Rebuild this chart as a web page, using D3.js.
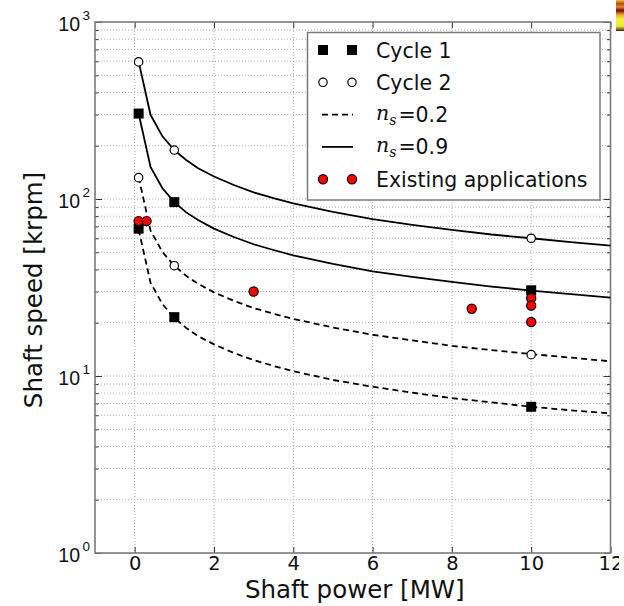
<!DOCTYPE html>
<html>
<head>
<meta charset="utf-8">
<script src="https://cdn.jsdelivr.net/npm/d3@7"></script>
<style>
  body { margin: 0; background: #fff; }
  svg { display: block; font-family: "DejaVu Sans", sans-serif; }
</style>
</head>
<body>
<svg id="chart" width="624" height="606"></svg>
<script>
// tick values
const xTicks = [0, 2, 4, 6, 8, 10, 12];
const yDecades = [1, 10, 100, 1000];
const yExponents = ["0", "1", "2", "3"];

// markers
const cycle1P = [0.1, 0.1, 1, 1, 10, 10];
const cycle1N = [304, 68, 96, 21.5, 30.5, 6.7];
const cycle2P = [0.1, 0.1, 1, 1, 10, 10];
const cycle2N = [595, 132, 189, 42, 60, 13.2];
const appsP = [0.1, 0.3, 3, 8.5, 10, 10, 10];
const appsN = [75, 75, 30, 24, 27.5, 25, 20.2];

// curves (shaft power sample points and speeds)
const curveP = [0.1, 0.4, 0.7, 1, 1.3, 1.6, 2, 2.5, 3, 3.5, 4, 5, 6, 7, 8, 9, 10, 11, 12];
const solidHigh = [598, 299, 226, 189, 166, 149, 134, 120, 109, 101, 94.5, 84.5, 77, 71.5, 67, 63, 60, 57, 54.5];
const solidLow = [304, 152, 115, 96, 84, 76, 68, 61, 55.5, 51.5, 48, 43, 39, 36.3, 34, 32, 30.4, 29, 27.7];
const dashHigh = [133, 66.4, 50.2, 42, 36.8, 33.2, 29.7, 26.6, 24.2, 22.5, 21, 18.8, 17.1, 15.9, 14.8, 14, 13.3, 12.7, 12.1];
const dashLow = [67.4, 33.7, 25.5, 21.3, 18.7, 16.8, 15.1, 13.5, 12.3, 11.4, 10.65, 9.5, 8.7, 8.05, 7.5, 7.1, 6.7, 6.4, 6.15];

const svg = d3.select("#chart");
const plotLeft = 95, plotRight = 610.5, plotTop = 22, plotBottom = 553;

const x = d3.scaleLinear().domain([-1, 12]).range([plotLeft, plotRight]);
const y = d3.scaleLog().domain([1, 1000]).range([plotBottom, plotTop]);

// minor log positions
const yMinor = [];
[1, 10, 100].forEach(d => { for (let k = 2; k <= 9; k++) yMinor.push(d * k); });

const defs = svg.append("defs");
// the source image is cut off on the right, through the last tick label
defs.append("clipPath").attr("id", "cut").append("rect")
  .attr("x", -700).attr("y", -50).attr("width", 700 + 619).attr("height", 200);

// stray piece of a neighbouring figure at top right
const grad = defs.append("linearGradient")
  .attr("id", "stray").attr("x1", 0).attr("x2", 0).attr("y1", 0).attr("y2", 1);
[["0%", "#f2c430"], ["12%", "#b04a10"], ["22%", "#e08a20"], ["34%", "#7a0c00"],
 ["48%", "#e8b030"], ["62%", "#f4f040"], ["84%", "#e6ee3a"], ["93%", "#9a7a20"], ["100%", "#402000"]]
  .forEach(s => grad.append("stop").attr("offset", s[0]).attr("stop-color", s[1]));
svg.append("rect").attr("x", 616).attr("y", 0).attr("width", 8).attr("height", 31)
  .attr("fill", "url(#stray)");

// grid
const grid = svg.append("g").attr("stroke", "#aaa").attr("stroke-width", 1)
  .attr("stroke-dasharray", "1,2");
grid.selectAll(".gx").data(xTicks.slice(0, -1)).enter().append("line")
  .attr("x1", d => x(d)).attr("x2", d => x(d)).attr("y1", plotTop).attr("y2", plotBottom);
grid.selectAll(".gy").data(yDecades.slice(1, -1).concat(yMinor)).enter().append("line")
  .attr("x1", plotLeft).attr("x2", plotRight).attr("y1", d => y(d)).attr("y2", d => y(d));

// axes with inward ticks
const axStyle = g => {
  g.select(".domain").remove();
  g.selectAll(".tick line").attr("stroke", "#333");
};
const xb = svg.append("g").attr("transform", `translate(0,${plotBottom})`)
  .attr("clip-path", "url(#cut)")
  .call(d3.axisBottom(x).tickValues(xTicks).tickSize(-6).tickPadding(3))
  .call(axStyle);
xb.selectAll("text").attr("font-size", 19.5).attr("fill", "#111").attr("font-family", "DejaVu Sans");
svg.append("g").attr("transform", `translate(0,${plotTop})`)
  .call(d3.axisTop(x).tickValues(xTicks).tickSize(-6).tickFormat(""))
  .call(axStyle);

const yl = svg.append("g").attr("transform", `translate(${plotLeft},0)`)
  .call(d3.axisLeft(y).tickValues(yDecades).tickSize(-7).tickFormat(""))
  .call(axStyle);
svg.append("g").attr("transform", `translate(${plotLeft},0)`)
  .call(d3.axisLeft(y).tickValues(yMinor).tickSize(-3.5).tickFormat(""))
  .call(axStyle);
svg.append("g").attr("transform", `translate(${plotRight},0)`)
  .call(d3.axisRight(y).tickValues(yDecades).tickSize(-7).tickFormat(""))
  .call(axStyle);
svg.append("g").attr("transform", `translate(${plotRight},0)`)
  .call(d3.axisRight(y).tickValues(yMinor).tickSize(-3.5).tickFormat(""))
  .call(axStyle);

// y tick labels as 10^k
yl.selectAll(".tick").each(function (d, i) {
  const t = d3.select(this).append("text").attr("fill", "#111").attr("text-anchor", "end");
  t.append("tspan").attr("x", -15).attr("y", 8).attr("font-size", 19.5).text("10");
  t.append("tspan").attr("x", -5).attr("y", -3).attr("font-size", 13.5).text(yExponents[i]);
});

// frame
svg.append("rect").attr("x", plotLeft).attr("y", plotTop)
  .attr("width", plotRight - plotLeft).attr("height", plotBottom - plotTop)
  .attr("fill", "none").attr("stroke", "#7a7a7a").attr("stroke-width", 1.6);

// axis labels
svg.append("text").attr("x", (plotLeft + plotRight) / 2 + 2).attr("y", 598)
  .attr("text-anchor", "middle").attr("font-size", 24.5).attr("fill", "#111")
  .text("Shaft power [MW]");
svg.append("text").attr("transform", "translate(42,290) rotate(-90)")
  .attr("text-anchor", "middle").attr("font-size", 24.5).attr("fill", "#111")
  .text("Shaft speed [krpm]");

// curves
const line = d3.line().x(d => x(d[0])).y(d => y(d[1]));
const curves = [
  { vals: solidHigh, dash: null },
  { vals: solidLow, dash: null },
  { vals: dashHigh, dash: "6,4" },
  { vals: dashLow, dash: "6,4" }
];
curves.forEach(c => {
  svg.append("path")
    .datum(curveP.map((p, i) => [p, c.vals[i]]))
    .attr("d", line)
    .attr("fill", "none").attr("stroke", "#000").attr("stroke-width", 1.8)
    .attr("stroke-dasharray", c.dash);
});

// markers
svg.append("g").selectAll("rect").data(cycle1P.map((p, i) => [p, cycle1N[i]])).enter()
  .append("rect")
  .attr("x", d => x(d[0]) - 5).attr("y", d => y(d[1]) - 5)
  .attr("width", 10).attr("height", 10).attr("fill", "#000");
svg.append("g").selectAll("circle").data(cycle2P.map((p, i) => [p, cycle2N[i]])).enter()
  .append("circle")
  .attr("cx", d => x(d[0])).attr("cy", d => y(d[1])).attr("r", 4.2)
  .attr("fill", "#fff").attr("stroke", "#000").attr("stroke-width", 1.2);
svg.append("g").selectAll("circle").data(appsP.map((p, i) => [p, appsN[i]])).enter()
  .append("circle")
  .attr("cx", d => x(d[0])).attr("cy", d => y(d[1])).attr("r", 4.6)
  .attr("fill", "#f00").attr("stroke", "#000").attr("stroke-width", 1.2);

// legend
const legend = svg.append("g");
legend.append("rect").attr("x", 307.5).attr("y", 32.5).attr("width", 292.5).attr("height", 167.5)
  .attr("fill", "#fff").attr("stroke", "#7a7a7a").attr("stroke-width", 1.5);

const legendItems = [
  { type: "square", label: "Cycle 1" },
  { type: "circle", label: "Cycle 2" },
  { type: "dash", sub: "0.2" },
  { type: "solid", sub: "0.9" },
  { type: "red", label: "Existing applications" }
];
const mx = [323, 352];
legendItems.forEach((it, i) => {
  const cy = 50 + i * 32.3;
  const g = legend.append("g");
  if (it.type === "square") {
    mx.forEach(m => g.append("rect").attr("x", m - 5).attr("y", cy - 5)
      .attr("width", 10).attr("height", 10).attr("fill", "#000"));
  } else if (it.type === "circle") {
    mx.forEach(m => g.append("circle").attr("cx", m).attr("cy", cy).attr("r", 4.2)
      .attr("fill", "#fff").attr("stroke", "#000").attr("stroke-width", 1.2));
  } else if (it.type === "red") {
    mx.forEach(m => g.append("circle").attr("cx", m).attr("cy", cy).attr("r", 4.6)
      .attr("fill", "#f00").attr("stroke", "#000").attr("stroke-width", 1.2));
  } else {
    g.append("line").attr("x1", 322).attr("x2", 353).attr("y1", cy).attr("y2", cy)
      .attr("stroke", "#000").attr("stroke-width", 1.8)
      .attr("stroke-dasharray", it.type === "dash" ? "6,4" : null);
  }
  if (it.label) {
    g.append("text").attr("x", 376).attr("y", cy + 7.5).attr("font-size", 20.5)
      .attr("fill", "#111").text(it.label);
  } else {
    const t = g.append("text").attr("x", 376).attr("y", cy + 5).attr("fill", "#111");
    t.append("tspan").attr("font-family", "DejaVu Serif").attr("font-style", "italic")
      .attr("font-size", 20.5).text("n");
    t.append("tspan").attr("font-family", "DejaVu Serif").attr("font-style", "italic")
      .attr("font-size", 14).attr("dy", 5).text("s");
    t.append("tspan").attr("font-size", 20.5).attr("dy", -3).attr("dx", 2).text("=" + it.sub);
  }
});
</script>
</body>
</html>
